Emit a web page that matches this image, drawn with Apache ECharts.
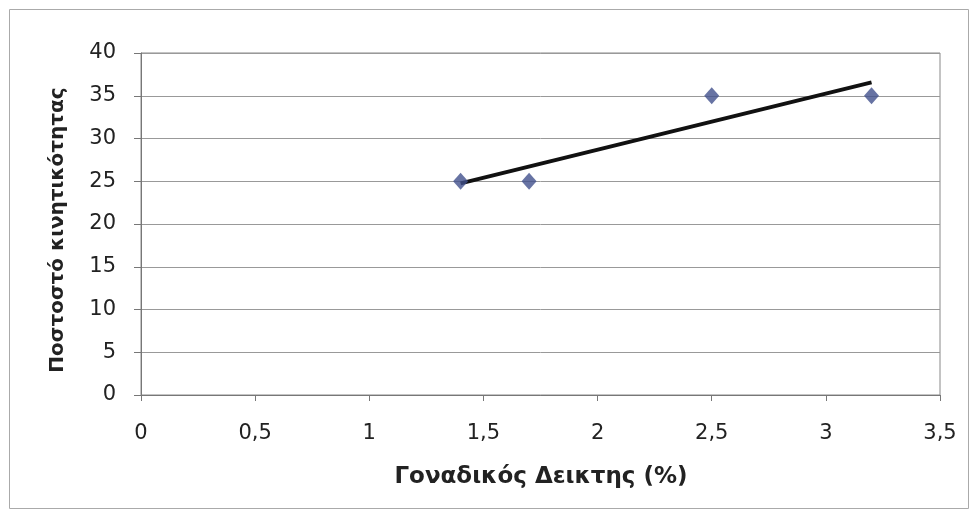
<!DOCTYPE html>
<html><head><meta charset="utf-8">
<script src="https://cdn.jsdelivr.net/npm/echarts@6/dist/echarts.min.js"></script>
<style>html,body{margin:0;padding:0;background:#fff}#c{width:979px;height:520px}</style>
</head><body><div id="c"></div>
<script>
const xValues = [1.4, 1.7, 2.5, 3.2];
const yValues = [25, 25, 35, 35];
const xTitle = 'Γοναδικός Δεικτης (%)';
const yTitle = 'Ποστοστό κινητικότητας';

// least-squares trend line from the data
const n = xValues.length;
const mx = xValues.reduce((a,b)=>a+b,0)/n;
const my = yValues.reduce((a,b)=>a+b,0)/n;
let sxy=0, sxx=0;
for (let i=0;i<n;i++){ sxy += (xValues[i]-mx)*(yValues[i]-my); sxx += (xValues[i]-mx)**2; }
const slope = sxy/sxx, icpt = my - slope*mx;
const xmin = Math.min(...xValues), xmax = Math.max(...xValues);
const trend = [[xmin, icpt+slope*xmin],[xmax, icpt+slope*xmax]];

const font = '"DejaVu Sans", sans-serif';
const chart = echarts.init(document.getElementById('c'), null, {renderer:'canvas'});
chart.setOption({
  animation:false,
  backgroundColor:'#fff',
  grid:{left:141, right:39, top:53, bottom:125, show:true, borderColor:'#888', borderWidth:1},
  xAxis:{type:'value', min:0, max:3.5, interval:0.5,
    axisLine:{show:true, onZero:false, lineStyle:{color:'#777', width:1}},
    axisTick:{show:true, length:6, lineStyle:{color:'#777'}},
    splitLine:{show:false},
    axisLabel:{margin:28, fontSize:21, fontFamily:font, color:'#222',
      formatter:v=>String(v).replace('.',',')}},
  yAxis:{type:'value', min:0, max:40, interval:5,
    axisLine:{show:true, lineStyle:{color:'#777', width:1}},
    axisTick:{show:true, length:7, lineStyle:{color:'#777'}},
    splitLine:{show:true, lineStyle:{color:'#999', width:1}},
    axisLabel:{margin:25, fontSize:21, fontFamily:font, color:'#222'}},
  graphic:[
    {type:'rect', shape:{x:9.5, y:9.5, width:959, height:499}, style:{fill:null, stroke:'#aaa', lineWidth:1}, silent:true, z:-1},
    {type:'text', x:541, y:477, style:{text:xTitle, font:'bold 23px "DejaVu Sans", sans-serif', fill:'#222', align:'center', verticalAlign:'middle'}},
    {type:'text', x:58, y:230, rotation:Math.PI/2, style:{text:yTitle, font:'bold 20px "DejaVu Sans", sans-serif', fill:'#222', align:'center', verticalAlign:'middle'}}
  ],
  series:[
    {type:'line', data:trend, symbol:'none', lineStyle:{color:'#111', width:4}, z:3},
    {type:'scatter', data:xValues.map((x,i)=>[x,yValues[i]]), symbol:'diamond', symbolSize:[15,17],
      itemStyle:{color:'#41508c'}, z:4}
  ]
});
</script></body></html>
